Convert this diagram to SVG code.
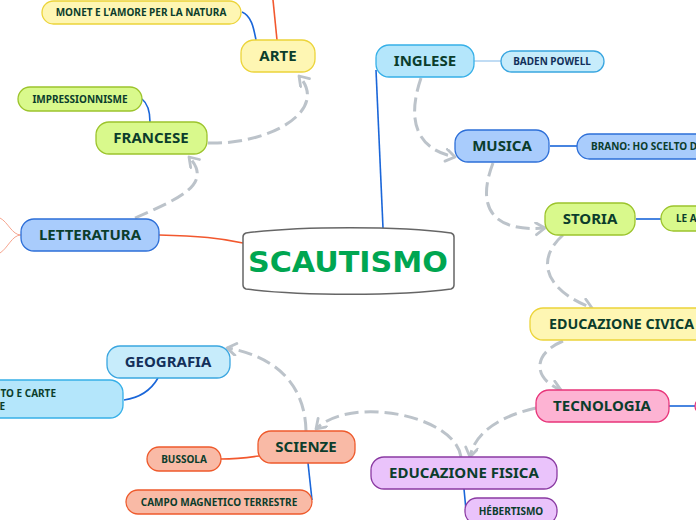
<svg xmlns="http://www.w3.org/2000/svg" width="696" height="520" viewBox="0 0 696 520">
<defs>
<marker id="ah" markerUnits="userSpaceOnUse" markerWidth="16" markerHeight="16" refX="11" refY="7" orient="auto">
<path d="M2,1 L11,7 L2,13" fill="none" stroke="#bcc3ca" stroke-width="2.8" stroke-linejoin="round" stroke-linecap="round"/>
</marker>
</defs>
<style>
text{font-family:"Noto Sans","Open Sans","DejaVu Sans",sans-serif;font-weight:bold;fill:#0b3d2c;text-anchor:middle}
.b{font-size:15px}
.s{font-size:10px}
.dash{fill:none;stroke:#bcc3ca;stroke-width:3;stroke-dasharray:14 6;marker-end:url(#ah)}
.bl{fill:none;stroke:#1a66d9;stroke-width:1.6}
.rd{fill:none;stroke:#f2582e;stroke-width:1.6}
.yel{fill:#fef6b3;stroke:#ecd43a;stroke-width:1.3}
.grn{fill:#d9f98c;stroke:#9cc42c;stroke-width:1.3}
.blu{fill:#a9ccfc;stroke:#2d6fd8;stroke-width:1.3}
.cya{fill:#b4e6fb;stroke:#36b0e8;stroke-width:1.3}
.cy2{fill:#c7ecfb;stroke:#3aa6e0;stroke-width:1.3}
.pnk{fill:#fdb3d3;stroke:#e8357a;stroke-width:1.3}
.sal{fill:#f9baa6;stroke:#ee5a2c;stroke-width:1.3}
.pur{fill:#eac3fb;stroke:#8a3aa2;stroke-width:1.3}
.nv{fill:#13305a}
</style>
<g id="connectors">
<path class="bl" d="M242,12 C252,16 254,30 256,40"/>
<path class="rd" d="M277,40 L273,0"/>
<path class="bl" d="M142,99 C147,103 150,112 150,122"/>
<path class="rd" d="M159,235 C200,236 220,238 243,243"/>
<path fill="none" stroke="#f6a58f" stroke-width="1" d="M21,235 C12,235 8,222 0,218 M21,235 C12,235 8,248 0,253"/>
<path class="bl" d="M383,228 L376,70"/>
<path fill="none" stroke="#96c4ec" stroke-width="1.2" d="M474,61 L501,61"/>
<path class="bl" d="M550,146 L577,146"/>
<path class="bl" d="M636,219 L661,219"/>
<path class="bl" d="M669,406 L695,406"/>
<path class="bl" d="M158,378 C150,392 138,398 124,400"/>
<path class="rd" d="M259,456 C245,458 235,459 221,459"/>
<path class="bl" d="M308,463 L312,500"/>
<path class="bl" d="M464,489 L466,510"/>
<path class="dash" d="M208,143 C270,145 330,110 299,76"/>
<path class="dash" d="M135,218 C175,200 215,185 189,157"/>
<path class="dash" d="M421,78 C405,125 420,150 455,157"/>
<path class="dash" d="M493,163 C475,210 495,232 545,228"/>
<path class="dash" d="M563,235 C535,260 545,290 592,308"/>
<path class="dash" d="M563,341 C530,355 535,380 561,390"/>
<path class="dash" d="M536,408 C505,415 475,430 470,457"/>
<path class="dash" d="M461,457 C455,415 350,395 316,429"/>
<path class="dash" d="M306,431 C305,380 270,355 227,348"/>
</g>
<g id="scautismo">
<path d="M246,233 C300,226 400,226 451,233 Q454,234 454,237 L454,285 Q454,288 451,289 C400,296 300,296 246,289 Q243,288 243,285 L243,237 Q243,234 246,233 Z" fill="#fff" stroke="#666" stroke-width="1.5"/>
<text x="348" y="272" style="font-family:'DejaVu Sans',sans-serif;font-size:28px;fill:#00a651" textLength="200" lengthAdjust="spacingAndGlyphs">SCAUTISMO</text>
</g>
<g id="monet"><rect class="yel" x="42" y="1" width="199" height="23" rx="11.5"/><text class="s" x="141" y="16">MONET E L'AMORE PER LA NATURA</text></g>
<g id="arte"><rect class="yel" x="241" y="40" width="74" height="32" rx="13"/><text class="b" x="278" y="61">ARTE</text></g>
<g id="impressionnisme"><rect class="grn" x="18" y="87" width="124" height="24" rx="12"/><text class="s" x="80" y="103">IMPRESSIONNISME</text></g>
<g id="francese"><rect class="grn" x="96" y="122" width="111" height="32" rx="13"/><text class="b" x="151" y="143">FRANCESE</text></g>
<g id="letteratura"><rect class="blu" x="21" y="219" width="138" height="32" rx="13"/><text class="b" x="90" y="240">LETTERATURA</text></g>
<g id="inglese"><rect class="cya" x="376" y="45" width="98" height="32" rx="13"/><text class="b" x="425" y="66">INGLESE</text></g>
<g id="baden"><rect class="cy2" x="501" y="51" width="103" height="21" rx="10.5"/><text class="s nv" x="552" y="65">BADEN POWELL</text></g>
<g id="musica"><rect class="blu" x="455" y="130" width="94" height="32" rx="13"/><text class="b" x="502" y="151">MUSICA</text></g>
<g id="brano"><rect class="blu" x="577" y="134" width="150" height="25" rx="12.5"/><text class="s" x="591" y="150" style="text-anchor:start">BRANO: HO SCELTO D</text></g>
<g id="storia"><rect class="grn" x="545" y="203" width="90" height="32" rx="13"/><text class="b" x="590" y="224">STORIA</text></g>
<g id="le-a"><rect class="grn" x="661" y="206" width="60" height="25" rx="12.5"/><text class="s" x="676" y="222" style="text-anchor:start">LE A</text></g>
<g id="educazione-civica"><rect class="yel" x="530" y="308" width="190" height="32" rx="13"/><text class="b" x="549" y="329" style="text-anchor:start" textLength="145" lengthAdjust="spacingAndGlyphs">EDUCAZIONE CIVICA</text></g>
<g id="tecnologia"><rect class="pnk" x="536" y="390" width="133" height="32" rx="13"/><text class="b" x="602" y="411">TECNOLOGIA</text></g>
<g id="tec-child"><rect class="pnk" x="695" y="398" width="30" height="16" rx="8"/></g>
<g id="educazione-fisica"><rect class="pur" x="371" y="457" width="186" height="32" rx="13"/><text class="b" x="464" y="478">EDUCAZIONE FISICA</text></g>
<g id="hebertismo"><rect class="pur" x="465" y="498" width="92" height="26" rx="12"/><text class="s" x="511" y="515">HÉBERTISMO</text></g>
<g id="scienze"><rect class="sal" x="258" y="431" width="97" height="32" rx="13"/><text class="b" x="306" y="452">SCIENZE</text></g>
<g id="bussola"><rect class="sal" x="147" y="447" width="74" height="24" rx="12"/><text class="s" x="184" y="463">BUSSOLA</text></g>
<g id="campo"><rect class="sal" x="126" y="490" width="186" height="24" rx="12"/><text class="s" x="219" y="506">CAMPO MAGNETICO TERRESTRE</text></g>
<g id="geografia"><rect class="cy2" x="107" y="346" width="123" height="32" rx="13"/><text class="b nv" x="168" y="367">GEOGRAFIA</text></g>
<g id="geo-child"><rect class="cya" x="-60" y="380" width="183" height="38" rx="13"/><text class="s" x="56" y="397" style="text-anchor:end">TO E CARTE</text><text class="s" x="5" y="410" style="text-anchor:end">E</text></g>
</svg>
